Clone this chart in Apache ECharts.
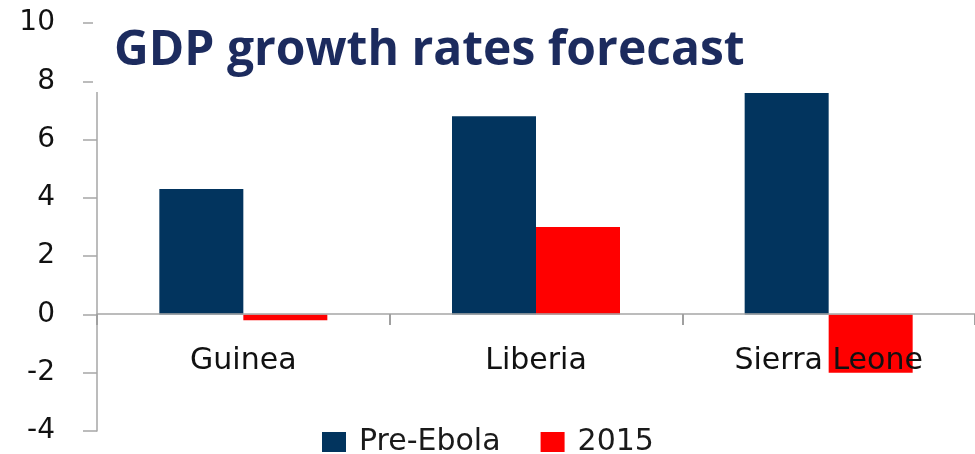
<!DOCTYPE html>
<html lang="en">
<head>
  <meta charset="utf-8">
  <title>GDP growth rates forecast</title>
  <script src="https://cdn.jsdelivr.net/npm/echarts@6/dist/echarts.min.js"></script>
  <style>
    html, body { margin: 0; padding: 0; background: #fff; }
  </style>
</head>
<body>
  <div id="main" style="width:975px;height:454px;"></div>

<script type="text/javascript">
// data
var countries = ['Guinea', 'Liberia', 'Sierra Leone'];
var preEbola = [4.3, 6.8, 7.6];
var y2015 = [-0.2, 3.0, -2.0];
var seriesNames = ['Pre-Ebola', '2015'];

var labelFont = 'DejaVu Sans';
var myChart = echarts.init(document.getElementById('main'));

var option = {
    animation: false,
    title: {
        text: 'GDP growth rates forecast',
        left: 93,
        top: 0,
        padding: [27, 0, 17, 21],
        backgroundColor: '#fff',
        textStyle: {
            fontFamily: 'Open Sans',
            fontWeight: 'bold',
            fontSize: 48,
            color: '#1c2b5e'
        }
    },
    legend: {
        data: seriesNames,
        left: 317,
        top: 422,
        itemWidth: 24,
        itemHeight: 20,
        itemGap: 40,
        icon: 'rect',
        textStyle: { fontFamily: labelFont, fontSize: 30, color: '#1a1a1a', padding: [0, 0, 0, 8] }
    },
    grid: { left: 97, right: 0, top: 23, bottom: 23, outerBoundsMode: 'none' },
    xAxis: {
        type: 'category',
        data: countries,
        z: 5,
        offset: -117,   // put the category axis on the zero line
        axisLine: { onZero: false, lineStyle: { color: '#a6a6a6', width: 1.5 } },
        axisTick: { show: true, interval: 0, alignWithLabel: false, length: 11, lineStyle: { color: '#a0a0a0', width: 2 } },
        axisLabel: { margin: 32, fontFamily: labelFont, fontSize: 30, color: '#111' }
    },
    yAxis: {
        type: 'value',
        min: -4,
        max: 10,
        interval: 2,
        splitLine: { show: false },
        axisLine: { show: true, lineStyle: { color: '#a6a6a6', width: 1.5 } },
        axisTick: { show: true, length: 14, lineStyle: { color: '#a6a6a6', width: 1.5 } },
        axisLabel: { margin: 42, fontFamily: labelFont, fontSize: 28, color: '#111' }
    },
    series: [{
        name: seriesNames[0],
        type: 'bar',
        data: preEbola,
        barWidth: 84,
        barGap: 0,
        itemStyle: { color: '#02345e' }
    }, {
        name: seriesNames[1],
        type: 'bar',
        data: y2015,
        barWidth: 84,
        itemStyle: { color: '#ff0000' }
    }]
};

myChart.setOption(option);
</script>
</body>
</html>
